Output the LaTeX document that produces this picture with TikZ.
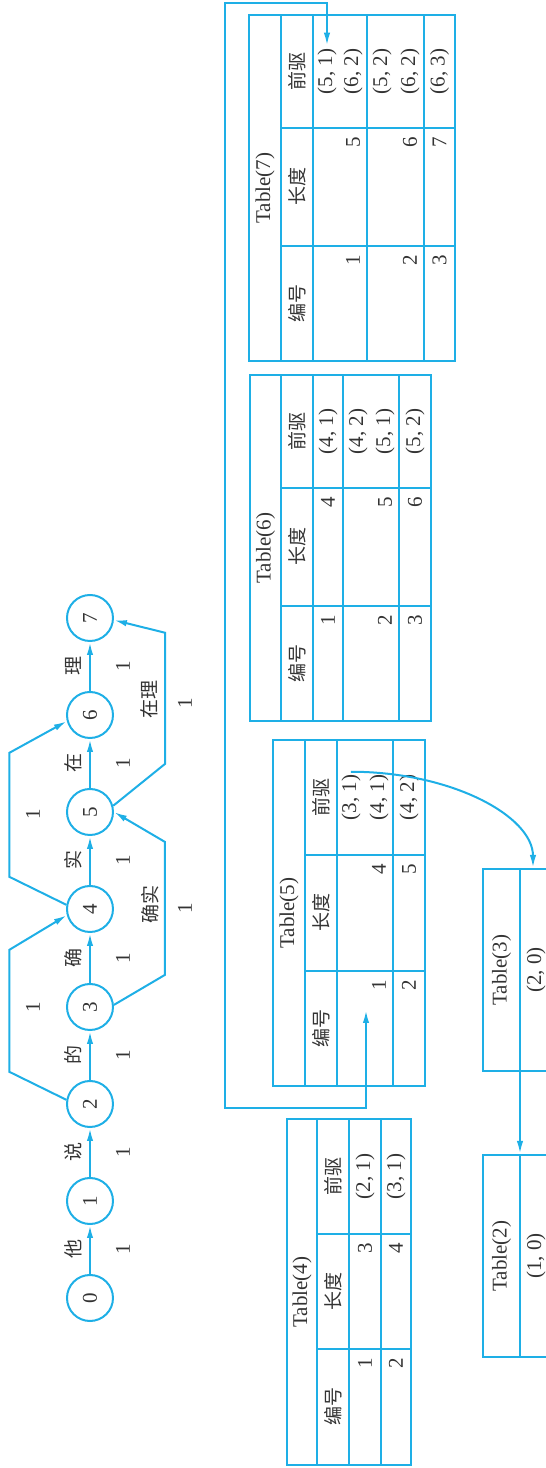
\documentclass[tikz,border=0pt]{standalone}
\usepackage{fontspec}
\setmainfont{Liberation Serif}
\newfontfamily\cjk{Noto Sans CJK SC}
\usetikzlibrary{arrows.meta,calc}
\definecolor{lineblue}{RGB}{30,175,230}

\begin{document}
\begin{tikzpicture}[
  rotate=90, transform shape,
  x=0.5pt, y=0.5pt,
  font=\fontsize{10.5}{12}\selectfont,
  line width=1pt,
  every node/.style={text=black!80},
  vtx/.style={circle, draw=lineblue, line width=1pt, minimum size=23pt, inner sep=0pt},
  word/.style={font=\cjk\fontsize{9.5}{11}\selectfont, inner sep=1pt},
  num/.style={inner sep=1pt},
  frame/.style={draw=lineblue, inner sep=0pt},
  rule/.style={draw=lineblue},
  arr/.style={draw=lineblue, -{Latex[length=6.5pt, width=3.2pt]}},
  dblarr/.style={draw=lineblue, {Latex[length=6.5pt, width=3.2pt]}-{Latex[length=6.5pt, width=3.2pt]}},
]
  \useasboundingbox (0,0) rectangle (1468,546);

  % Word graph
  \node[vtx] (n0) at (170,456) {0};
  \node[vtx] (n1) at (267,456) {1};
  \node[vtx] (n2) at (364,456) {2};
  \node[vtx] (n3) at (461,456) {3};
  \node[vtx] (n4) at (559,456) {4};
  \node[vtx] (n5) at (656,456) {5};
  \node[vtx] (n6) at (753,456) {6};
  \node[vtx] (n7) at (850,456) {7};

  \draw[arr] (n0) -- (n1);
  \draw[arr] (n1) -- (n2);
  \draw[arr] (n2) -- (n3);
  \draw[arr] (n3) -- (n4);
  \draw[arr] (n4) -- (n5);
  \draw[arr] (n5) -- (n6);
  \draw[arr] (n6) -- (n7);

  \node[word] (w01) at (218.5,473) {他};
  \node[word] (w12) at (315.5,473) {说};
  \node[word] (w23) at (412.5,473) {的};
  \node[word] (w34) at (510,473) {确};
  \node[word] (w45) at (607.5,473) {实};
  \node[word] (w56) at (704.5,473) {在};
  \node[word] (w67) at (801.5,473) {理};
  \node[num] (c01) at (218.5,423) {1};
  \node[num] (c12) at (315.5,423) {1};
  \node[num] (c23) at (412.5,423) {1};
  \node[num] (c34) at (510,423) {1};
  \node[num] (c45) at (607.5,423) {1};
  \node[num] (c56) at (704.5,423) {1};
  \node[num] (c67) at (801.5,423) {1};

  % two-word edges
  \draw[arr] (n2.80) -- ++(28,57) -- ++(122,0) -- (n4.105);
  \draw[arr] (n4.80) -- ++(28,57) -- ++(124,0) -- (n6.105);
  \draw[arr] (n3.-85) -- ++(30,-51) -- ++(133,0) -- (n5.-90);
  \draw[arr] (n5.-75) -- ++(42,-52) -- ++(131,0) -- (n7.-95);
  \node[num] (c24) at (461,513) {1};
  \node[num] (c46) at (654,513) {1};
  \node[word] (w35) at (563,396) {确实};
  \node[num] (c35) at (560,361) {1};
  \node[word] (w57) at (768,397) {在理};
  \node[num] (c57) at (765,361) {1};

  % Table(4)
  \draw[rule] (3,135) rectangle (349,259);
  \draw[rule] (3,229) -- (349,229) (3,197) -- (349,197) (3,165) -- (349,165);
  \draw[rule] (119,135) -- (119,229) (234,135) -- (234,229);
  \node[num] (t4) at (176,244) {Table(4)};
  \node[word] (t4a) at (61,213) {编号};
  \node[word] (t4b) at (176.5,213) {长度};
  \node[word] (t4c) at (291.5,213) {前驱};
  \node[num] (t4p1) at (291.5,181) {(2, 1)};
  \node[num, anchor=east] (t4i1) at (113,181) {1};
  \node[num, anchor=east] (t4l1) at (228,181) {3};
  \node[num] (t4p2) at (291.5,150) {(3, 1)};
  \node[num, anchor=east] (t4i2) at (113,150) {2};
  \node[num, anchor=east] (t4l2) at (228,150) {4};

  % Table(5)
  \draw[rule] (382,121) rectangle (728,272.5);
  \draw[rule] (382,241) -- (728,241) (382,209) -- (728,209) (382,152.5) -- (728,152.5);
  \draw[rule] (497,121) -- (497,241) (613,121) -- (613,241);
  \node[num] (t5) at (555,257) {Table(5)};
  \node[word] (t5a) at (439.5,225) {编号};
  \node[word] (t5b) at (555,225) {长度};
  \node[word] (t5c) at (670.5,225) {前驱};
  \node[num] (t5p1) at (670.5,195) {(3, 1)};
  \node[num] (t5p1b) at (670.5,167) {(4, 1)};
  \node[num, anchor=east] (t5i1) at (491,167) {1};
  \node[num, anchor=east] (t5l1) at (607,167) {4};
  \node[num] (t5p2) at (670.5,137) {(4, 2)};
  \node[num, anchor=east] (t5i2) at (491,137) {2};
  \node[num, anchor=east] (t5l2) at (607,137) {5};

  % Table(6)
  \draw[rule] (747,115) rectangle (1093,296);
  \draw[rule] (747,265) -- (1093,265) (747,233) -- (1093,233) (747,202.5) -- (1093,202.5) (747,146.5) -- (1093,146.5);
  \draw[rule] (862,115) -- (862,265) (980,115) -- (980,265);
  \node[num] (t6) at (920,280.5) {Table(6)};
  \node[word] (t6a) at (804.5,249) {编号};
  \node[word] (t6b) at (921,249) {长度};
  \node[word] (t6c) at (1036.5,249) {前驱};
  \node[num] (t6p1) at (1036.5,218) {(4, 1)};
  \node[num, anchor=east] (t6i1) at (856,218) {1};
  \node[num, anchor=east] (t6l1) at (974,218) {4};
  \node[num] (t6p2) at (1036.5,188) {(4, 2)};
  \node[num] (t6p2b) at (1036.5,161) {(5, 1)};
  \node[num, anchor=east] (t6i2) at (856,161) {2};
  \node[num, anchor=east] (t6l2) at (974,161) {5};
  \node[num] (t6p3) at (1036.5,131) {(5, 2)};
  \node[num, anchor=east] (t6i3) at (856,131) {3};
  \node[num, anchor=east] (t6l3) at (974,131) {6};

  % Table(7)
  \draw[rule] (1107,91) rectangle (1453,296.5);
  \draw[rule] (1107,265) -- (1453,265) (1107,233) -- (1453,233) (1107,178.5) -- (1453,178.5) (1107,122) -- (1453,122);
  \draw[rule] (1222,91) -- (1222,265) (1340,91) -- (1340,265);
  \node[num] (t7) at (1280,281) {Table(7)};
  \node[word] (t7a) at (1164.5,249) {编号};
  \node[word] (t7b) at (1281,249) {长度};
  \node[word] (t7c) at (1396.5,249) {前驱};
  \node[num] (t7p1) at (1396.5,219) {(5, 1)};
  \node[num] (t7p1b) at (1396.5,193) {(6, 2)};
  \node[num, anchor=east] (t7i1) at (1216,193) {1};
  \node[num, anchor=east] (t7l1) at (1334,193) {5};
  \node[num] (t7p2) at (1396.5,164) {(5, 2)};
  \node[num] (t7p2b) at (1396.5,136) {(6, 2)};
  \node[num, anchor=east] (t7i2) at (1216,136) {2};
  \node[num, anchor=east] (t7l2) at (1334,136) {6};
  \node[num] (t7p3) at (1396.5,106.5) {(6, 3)};
  \node[num, anchor=east] (t7i3) at (1216,106.5) {3};
  \node[num, anchor=east] (t7l3) at (1334,106.5) {7};

  % Table(2), Table(3)
  \node[frame, minimum width=101pt, minimum height=37pt] (tab2) at (212,26) {};
  \node[frame, minimum width=101pt, minimum height=37pt] (tab3) at (498,26) {};
  \draw[rule] (tab2.west) -- (tab2.east);
  \draw[rule] (tab3.west) -- (tab3.east);
  \node[num] (t2) at (212,44.5) {Table(2)};
  \node[num] (t2p) at (212,10) {(1, 0)};
  \node[num] (t3) at (498,44.5) {Table(3)};
  \node[num] (t3p) at (498,10) {(2, 0)};
  \draw[arr] (tab3.west) -- (tab2.east);

  % links between tables
  \draw[arr] (t5p1.east) .. controls ($(t5p1.east)+(0,-100)$) and ($(tab3.east)+(52,-13)$) .. ($(tab3.east)+(0,-13)$);
  \coordinate (t5hook) at (458,180);
  \draw[dblarr] (t5hook) -- ++(-98,0) |- (1465,321) |- (t7p1.east);
\end{tikzpicture}
\end{document}
